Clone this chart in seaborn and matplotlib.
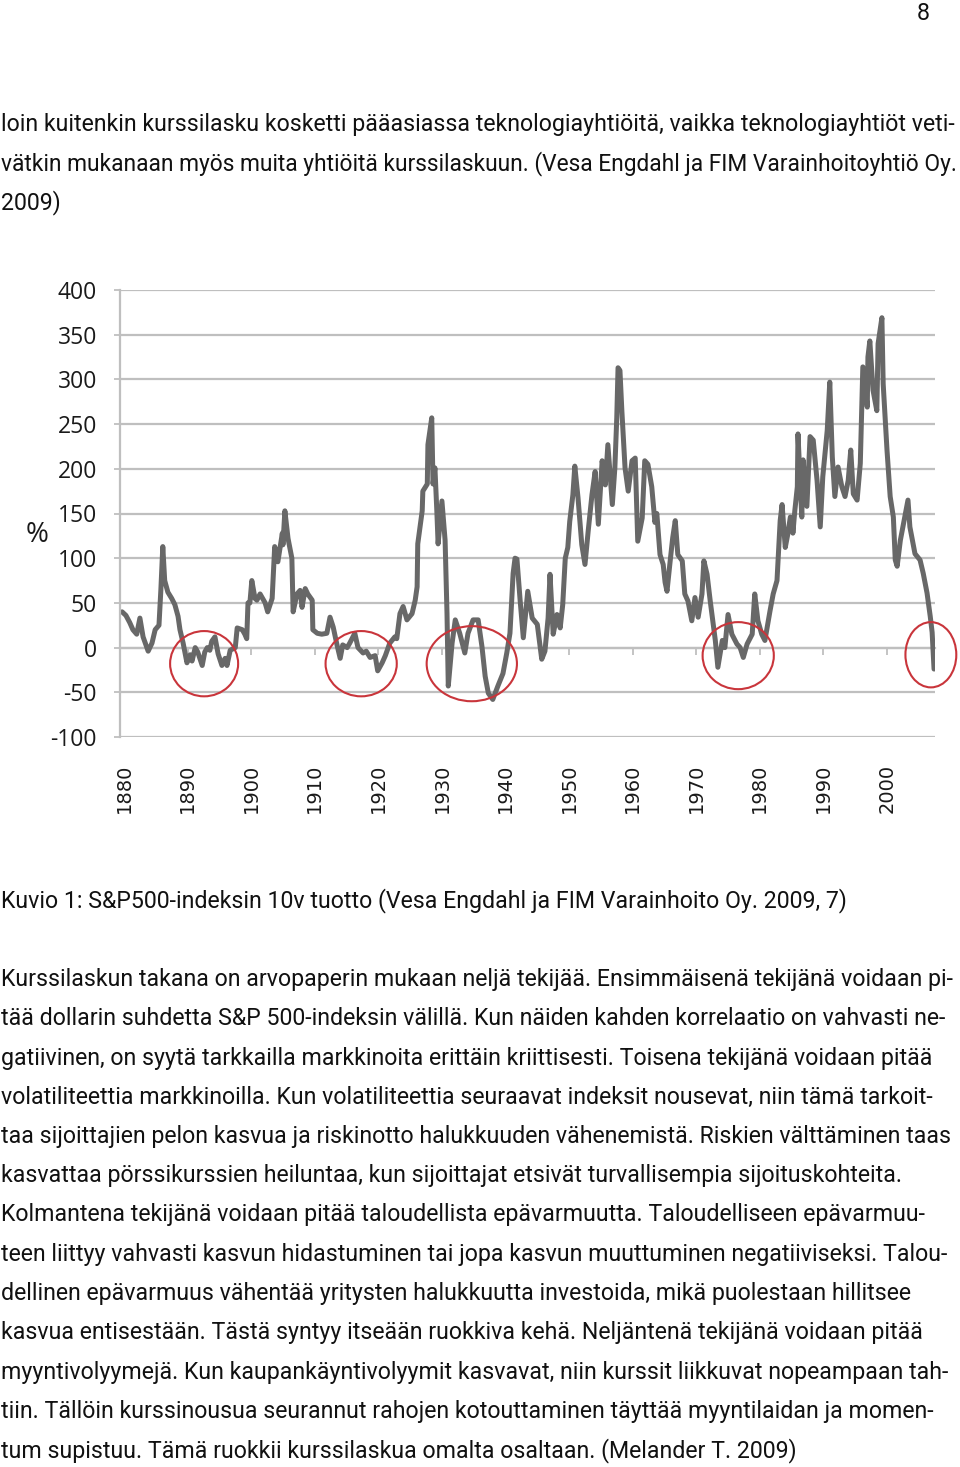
import pandas as pd
import seaborn as sns
import matplotlib.pyplot as plt
from matplotlib import font_manager as fm
from matplotlib.patches import Ellipse

# S&P500 10-year return
years = [1879.7, 1880.3, 1880.9, 1881.4, 1882.0, 1882.5, 1883.0, 1883.8, 1884.4, 1884.9,
         1885.5, 1885.8, 1886.1, 1886.4, 1886.9, 1887.5, 1888.0, 1888.5, 1888.8, 1889.3,
         1889.9, 1890.4, 1890.7, 1891.2, 1891.6, 1892.3, 1892.7, 1893.1, 1893.5, 1893.8,
         1894.3, 1894.8, 1895.4, 1895.9, 1896.2, 1896.7, 1897.5, 1897.8, 1898.6, 1899.0,
         1899.3, 1899.5, 1899.8, 1900.1, 1900.6, 1900.9, 1901.4, 1902.2, 1902.6, 1903.3,
         1903.7, 1904.2, 1904.9, 1905.0, 1905.3, 1905.8, 1906.4, 1906.6, 1907.2, 1907.7,
         1908.0, 1908.5, 1908.9, 1909.6, 1909.7, 1910.4, 1911.1, 1911.9, 1912.4, 1912.9,
         1913.5, 1914.0, 1914.4, 1915.1, 1915.5, 1916.3, 1916.8, 1917.6, 1918.1, 1918.7,
         1919.5, 1919.9, 1920.6, 1921.1, 1921.8, 1922.6, 1922.9, 1923.4, 1923.9, 1924.5,
         1925.3, 1925.8, 1926.1, 1926.2, 1926.9, 1927.0, 1927.7, 1927.8, 1928.4, 1928.6,
         1928.9, 1929.2, 1929.4, 1930.0, 1930.5, 1930.8, 1931.0, 1931.6, 1932.1, 1932.8,
         1933.6, 1934.1, 1934.9, 1935.7, 1936.3, 1936.8, 1937.3, 1938.0, 1938.8, 1939.6,
         1940.2, 1940.7, 1941.2, 1941.5, 1941.8, 1942.3, 1942.8, 1943.5, 1944.2, 1945.0,
         1945.7, 1946.2, 1946.7, 1947.0, 1947.5, 1948.1, 1948.6, 1949.0, 1949.4, 1949.8,
         1950.1, 1950.6, 1950.9, 1951.4, 1952.0, 1952.5, 1953.0, 1953.6, 1954.1, 1954.6,
         1955.2, 1955.7, 1956.1, 1956.8, 1957.2, 1957.5, 1957.7, 1958.0, 1958.3, 1958.8,
         1959.3, 1959.9, 1960.4, 1960.8, 1961.5, 1961.9, 1962.4, 1963.0, 1963.5, 1963.8,
         1964.3, 1964.8, 1965.1, 1965.4, 1965.9, 1966.3, 1966.7, 1967.1, 1967.8, 1968.2,
         1968.7, 1969.3, 1969.8, 1970.3, 1970.9, 1971.2, 1971.7, 1972.2, 1972.6, 1973.0,
         1973.4, 1974.1, 1974.5, 1975.0, 1975.6, 1976.4, 1976.9, 1977.4, 1978.0, 1978.8,
         1979.2, 1979.7, 1980.3, 1980.8, 1981.6, 1982.1, 1982.7, 1983.2, 1983.5, 1984.0,
         1984.4, 1984.8, 1985.1, 1985.2, 1985.5, 1985.9, 1986.0, 1986.6, 1986.8, 1987.4,
         1987.9, 1988.4, 1989.0, 1989.5, 1989.9, 1990.6, 1991.0, 1991.4, 1991.8, 1992.3,
         1992.9, 1993.4, 1993.9, 1994.3, 1994.7, 1995.3, 1995.8, 1996.2, 1996.9, 1997.0,
         1997.3, 1997.8, 1998.4, 1998.6, 1999.2, 1999.4, 2000.0, 2000.5, 2001.0, 2001.3,
         2001.6, 2002.1, 2002.8, 2003.3, 2003.6, 2004.4, 2005.2, 2005.7, 2006.3, 2006.8,
         2007.1, 2007.4]
returns = [40, 36, 28, 20, 15, 33, 12, -4, 5, 20,
           25, 65, 113, 75, 62, 55, 48, 35, 20, 5,
           -17, -8, -15, 0, -5, -20, -5, 0, -3, 7,
           12, -7, -20, -12, -20, -3, 0, 22, 20, 15,
           10, 50, 50, 75, 55, 53, 60, 50, 40, 55,
           113, 96, 128, 115, 153, 122, 100, 40, 60, 64,
           45, 66, 60, 53, 20, 16, 15, 16, 34, 23,
           3, -12, 3, 0, 5, 16, 0, -6, -4, -11,
           -9, -26, -17, -9, 5, 12, 10, 38, 46, 31,
           38, 53, 68, 116, 153, 175, 183, 227, 257, 183,
           201, 153, 116, 164, 120, 38, -43, 5, 31, 16,
           -6, 16, 31, 31, 1, -32, -51, -58, -43, -29,
           -6, 16, 83, 100, 99, 53, 11, 63, 33, 26,
           -13, -4, 33, 82, 15, 37, 22, 48, 100, 112,
           141, 171, 203, 168, 115, 93, 130, 171, 197, 138,
           209, 182, 227, 160, 201, 257, 313, 310, 265, 201,
           175, 209, 212, 119, 145, 209, 205, 180, 140, 150,
           104, 93, 73, 63, 97, 123, 142, 104, 97, 60,
           52, 30, 56, 34, 60, 97, 82, 52, 30, 8,
           -22, 8, 0, 37, 15, 4, 0, -11, 4, 15,
           60, 30, 15, 8, 41, 60, 75, 142, 160, 112,
           127, 146, 145, 128, 153, 180, 239, 146, 210, 158,
           236, 232, 187, 135, 191, 243, 297, 213, 169, 202,
           180, 169, 187, 221, 172, 165, 206, 314, 269, 325,
           343, 288, 265, 340, 369, 295, 221, 169, 146, 98,
           91, 120, 146, 165, 135, 105, 98, 83, 61, 35,
           17, -24]

decades = list(range(1880, 2001, 10))
y_ticks = list(range(-100, 401, 50))

# red circles marking the troughs (centre year, centre value, width in years, height in %)
circle_year = [1892.6, 1917.3, 1934.7, 1976.6, 2006.9]
circle_val = [-18, -18, -18, -9, -8]
circle_w = [10.7, 11.2, 14.2, 11.2, 8.0]
circle_h = [73, 73, 84, 75, 73]

top_lines = [
    "loin kuitenkin kurssilasku kosketti pääasiassa teknologiayhtiöitä, vaikka teknologiayhtiöt veti-",
    "vätkin mukanaan myös muita yhtiöitä kurssilaskuun. (Vesa Engdahl ja FIM Varainhoitoyhtiö Oy.",
    "2009)",
]
caption = "Kuvio 1: S&P500-indeksin 10v tuotto (Vesa Engdahl ja FIM Varainhoito Oy. 2009, 7)"
para_lines = [
    "Kurssilaskun takana on arvopaperin mukaan neljä tekijää. Ensimmäisenä tekijänä voidaan pi-",
    "tää dollarin suhdetta S&P 500-indeksin välillä. Kun näiden kahden korrelaatio on vahvasti ne-",
    "gatiivinen, on syytä tarkkailla markkinoita erittäin kriittisesti. Toisena tekijänä voidaan pitää",
    "volatiliteettia markkinoilla. Kun volatiliteettia seuraavat indeksit nousevat, niin tämä tarkoit-",
    "taa sijoittajien pelon kasvua ja riskinotto halukkuuden vähenemistä. Riskien välttäminen taas",
    "kasvattaa pörssikurssien heiluntaa, kun sijoittajat etsivät turvallisempia sijoituskohteita.",
    "Kolmantena tekijänä voidaan pitää taloudellista epävarmuutta. Taloudelliseen epävarmuu-",
    "teen liittyy vahvasti kasvun hidastuminen tai jopa kasvun muuttuminen negatiiviseksi. Talou-",
    "dellinen epävarmuus vähentää yritysten halukkuutta investoida, mikä puolestaan hillitsee",
    "kasvua entisestään. Tästä syntyy itseään ruokkiva kehä. Neljäntenä tekijänä voidaan pitää",
    "myyntivolyymejä. Kun kaupankäyntivolyymit kasvavat, niin kurssit liikkuvat nopeampaan tah-",
    "tiin. Tällöin kurssinousua seurannut rahojen kotouttaminen täyttää myyntilaidan ja momen-",
    "tum supistuu. Tämä ruokkii kurssilaskua omalta osaltaan. (Melander T. 2009)",
]
# right edge of each text line in the reference page (px)
top_ends = [950, 957, None]
caption_end = 836
para_ends = [943, 945, 948, 953, 950, 903, 925, 945, 911, 918, 948, 935, 780]


def has_font(name):
    try:
        fm.findfont(fm.FontProperties(family=name), fallback_to_default=False)
        return True
    except ValueError:
        return False


sns.set_style("white")
body_font = "DejaVu Sans"
for cand in ["Liberation Sans Narrow", "Roboto", "Liberation Sans"]:
    if has_font(cand):
        body_font = cand
        break
plt.rcParams['font.family'] = ['DejaVu Sans']

W, H = 960, 1467
fig = plt.figure(figsize=(W / 100, H / 100), dpi=100)
fig.patch.set_facecolor('white')

# chart
ax = fig.add_axes([120 / W, 1 - 737 / H, (935 - 120) / W, (737 - 290) / H])
df = pd.DataFrame({'Vuosi': years, 'Tuotto': returns})
sns.lineplot(data=df, x='Vuosi', y='Tuotto', ax=ax, color='#686868',
             linewidth=3.6, estimator=None, sort=False)

ax.set_xlim(1879.37, 2007.55)
ax.set_ylim(-100, 400)
ax.set_xlabel('')
ax.set_ylabel('')
ax.set_yticks(y_ticks)
ax.set_yticklabels([str(v) for v in y_ticks])
ax.yaxis.grid(True, color='#bfbfbf', linewidth=1.6)
ax.xaxis.grid(False)
ax.set_axisbelow(True)
ax.set_xticks(decades)
ax.set_xticklabels([str(d) for d in decades])
ax.tick_params(axis='x', length=0, pad=19, labelrotation=90, labelsize=14, labelcolor='#1a1a1a')
ax.tick_params(axis='y', left=True, length=4.5, width=1.3, color='#bfbfbf', pad=12)
for lbl in ax.get_yticklabels():
    lbl.set_fontfamily('Open Sans')
    lbl.set_fontsize(16.5)
    lbl.set_color('#1a1a1a')
for side in ['top', 'right', 'bottom']:
    ax.spines[side].set_visible(False)
ax.spines['left'].set_color('#bfbfbf')
ax.spines['left'].set_linewidth(1.6)

# category axis crossing at zero, with small ticks
zero_loc = (0 - (-100)) / (400 - (-100))
sec = ax.secondary_xaxis(zero_loc)
sec.set_xticks(decades[1:])
sec.set_xticklabels([])
sec.tick_params(length=5, width=1.3, color='#bfbfbf', direction='out')
sec.spines['bottom'].set_color('#bfbfbf')
sec.spines['bottom'].set_linewidth(1.6)

for cx, cy, w, h in zip(circle_year, circle_val, circle_w, circle_h):
    ax.add_patch(Ellipse((cx, cy), w, h, fill=False, edgecolor='#c9353b',
                         linewidth=1.5, clip_on=False, zorder=5))

fig.text(37 / W, 1 - 535 / H, '%', fontsize=20, family='Open Sans',
         color='#1a1a1a', ha='center', va='center')

# page text: one common size fitted to the reference line lengths
texts = []
for i, line in enumerate(top_lines):
    texts.append((fig.text(1 / W, 1 - (131 + 39.3 * i) / H, line, fontsize=10,
                           family=body_font, color='#111111', va='baseline'), top_ends[i]))
texts.append((fig.text(1 / W, 1 - 907 / H, caption, fontsize=10, family=body_font,
                       color='#111111', va='baseline'), caption_end))
for i, line in enumerate(para_lines):
    texts.append((fig.text(1 / W, 1 - (986 + 39.25 * i) / H, line, fontsize=10,
                           family=body_font, color='#111111', va='baseline'), para_ends[i]))
page_no = fig.text(923 / W, 1 - 20 / H, '8', fontsize=10, family=body_font,
                   color='#111111', ha='center', va='baseline')

fig.canvas.draw()
renderer = fig.canvas.get_renderer()
fits = []
for t, end in texts:
    if end is not None:
        fits.append(10 * (end - 1) / t.get_window_extent(renderer).width)
fits.sort()
size = fits[len(fits) // 2]
page_no.set_fontsize(size)
for t, end in texts:
    wid = t.get_window_extent(renderer).width * size / 10
    t.set_fontsize(size if wid < 957 else size * 956 / wid)

fig.savefig('out.png', dpi=100, facecolor='white')
